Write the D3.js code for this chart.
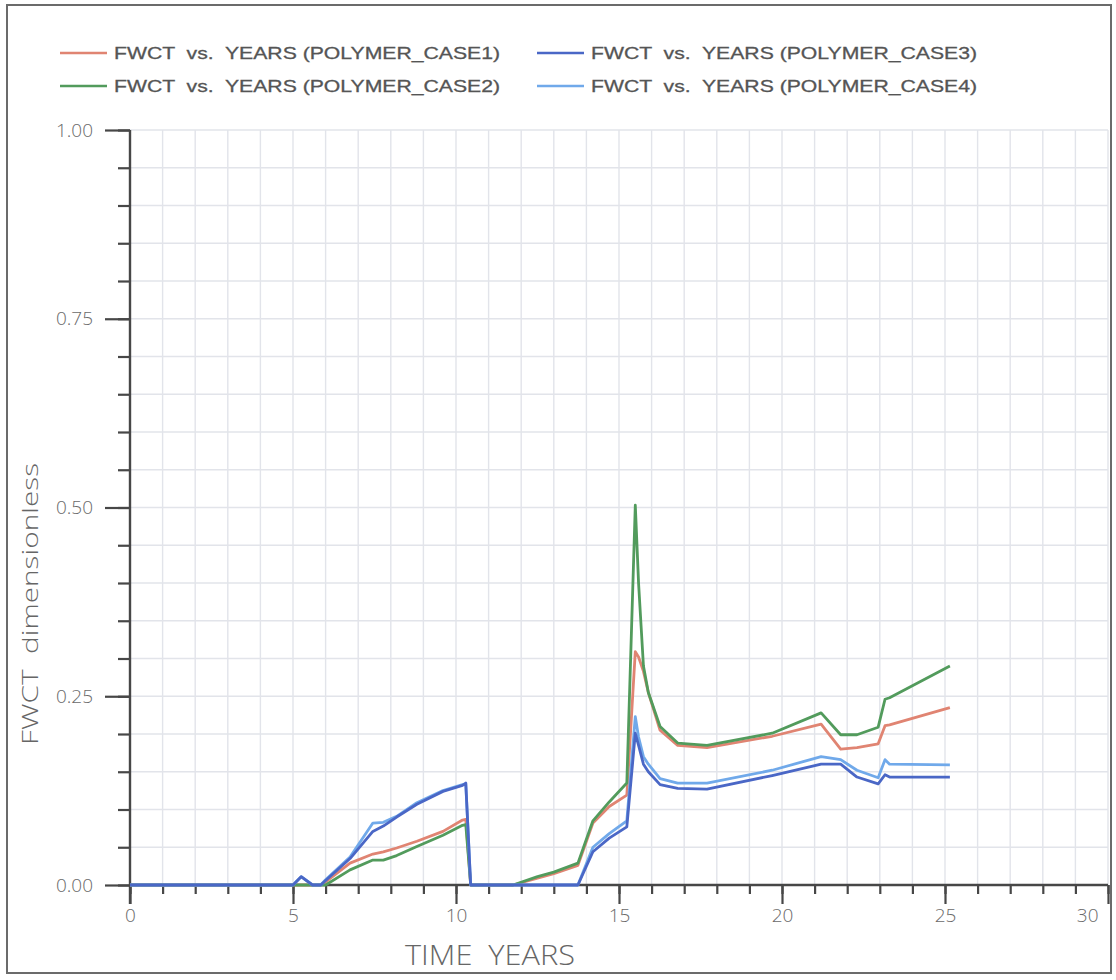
<!DOCTYPE html>
<html>
<head>
<meta charset="utf-8">
<script src="https://cdn.jsdelivr.net/npm/d3@7"></script>
<style>
  html, body { margin: 0; padding: 0; background: #fff; }
  svg { display: block; }
  svg text { white-space: pre; }
</style>
</head>
<body>
<svg id="chart" width="1116" height="980"></svg>
<script>
// ---- Data ----
const timeYears = [0, 5.0, 5.25, 5.6, 5.85, 6.0, 6.75, 7.45, 7.77, 8.18, 8.8, 9.6, 10.2, 10.3, 10.45,
  11.75, 12.5, 13.0, 13.74, 14.2, 14.7, 15.24, 15.5, 15.6, 15.75, 15.9, 16.26, 16.8, 17.7, 19.7,
  21.2, 21.8, 22.3, 22.95, 23.16, 23.3, 25.15];

const case1 = [0, 0, 0, 0, 0, 0.004, 0.029, 0.041, 0.044, 0.049, 0.058, 0.071, 0.086, 0.087, 0,
  0, 0.009, 0.015, 0.026, 0.082, 0.104, 0.119, 0.309, 0.302, 0.283, 0.255, 0.205, 0.185, 0.182, 0.197,
  0.213, 0.180, 0.182, 0.187, 0.211, 0.212, 0.235];

const case2 = [0, 0, 0, 0, 0, 0, 0.020, 0.033, 0.033, 0.039, 0.051, 0.066, 0.079, 0.080, 0,
  0, 0.011, 0.017, 0.029, 0.085, 0.110, 0.135, 0.503, 0.400, 0.290, 0.255, 0.210, 0.188, 0.185, 0.201,
  0.228, 0.199, 0.199, 0.209, 0.246, 0.248, 0.290];

const case3 = [0, 0, 0.011, 0, 0, 0.006, 0.035, 0.071, 0.078, 0.090, 0.107, 0.124, 0.132, 0.135, 0,
  0, 0, 0, 0, 0.044, 0.062, 0.077, 0.201, 0.185, 0.160, 0.150, 0.133, 0.128, 0.127, 0.145,
  0.160, 0.160, 0.143, 0.134, 0.146, 0.143, 0.143];

const case4 = [0, 0, 0.011, 0, 0, 0.007, 0.037, 0.082, 0.083, 0.091, 0.109, 0.125, 0.133, 0.134, 0,
  0, 0, 0, 0, 0.050, 0.068, 0.085, 0.223, 0.196, 0.170, 0.160, 0.141, 0.135, 0.135, 0.152,
  0.170, 0.166, 0.152, 0.142, 0.166, 0.160, 0.159];

const seriesNames = ["FWCT  vs.  YEARS (POLYMER_CASE1)", "FWCT  vs.  YEARS (POLYMER_CASE2)",
  "FWCT  vs.  YEARS (POLYMER_CASE3)", "FWCT  vs.  YEARS (POLYMER_CASE4)"];
const seriesColors = ["#e08472", "#529b5c", "#4a67c6", "#70a9ea"];
const yTickLabels = ["0.00", "0.25", "0.50", "0.75", "1.00"];
const xTickLabels = ["0", "5", "10", "15", "20", "25", "30"];

const seriesValues = [case1, case2, case3, case4];

// ---- Layout ----
const svg = d3.select("#chart");
const x = d3.scaleLinear().domain([0, 30]).range([130, 1108]);
const y = d3.scaleLinear().domain([0, 1]).range([885, 130]);

// outer frame
svg.append("rect").attr("x", 7).attr("y", 5).attr("width", 1104).attr("height", 968)
  .attr("fill", "none").attr("stroke", "#6b6b6b").attr("stroke-width", 2);

// grid
const grid = svg.append("g").attr("stroke", "#e2e4ea").attr("stroke-width", 1.4);
grid.selectAll(".vg").data(d3.range(1, 31)).join("line")
  .attr("x1", d => x(d)).attr("x2", d => x(d)).attr("y1", y(0)).attr("y2", y(1));
grid.selectAll(".hg").data(d3.range(1, 21).map(d => d * 0.05)).join("line")
  .attr("y1", d => y(d)).attr("y2", d => y(d)).attr("x1", x(0)).attr("x2", x(30));

// axes
const axisColor = "#474747";
function styleAxis(g) {
  g.select(".domain").remove();
  g.selectAll(".tick line").attr("stroke", axisColor).attr("stroke-width", 2.2);
  g.selectAll("text").attr("fill", "#6a6a6a").attr("font-family", "'Open Sans', 'DejaVu Sans', sans-serif")
    .attr("font-weight", 300).attr("font-size", 19);
}
// x minor
svg.append("g").attr("transform", `translate(0,${y(0)})`)
  .call(d3.axisBottom(x).tickValues(d3.range(0, 31)).tickSize(9).tickFormat(""))
  .call(styleAxis);
// x major
const xMajor = svg.append("g").attr("transform", `translate(0,${y(0)})`)
  .call(d3.axisBottom(x).tickValues(xTickLabels.map(Number)).tickSize(19).tickPadding(5)
    .tickFormat((d, i) => xTickLabels[i]))
  .call(styleAxis);
xMajor.selectAll(".tick").filter(d => d === 30).select("text")
  .attr("text-anchor", "end").attr("dx", -10);
// y minor
svg.append("g").attr("transform", `translate(${x(0)},0)`)
  .call(d3.axisLeft(y).tickValues(d3.range(0, 21).map(d => d * 0.05)).tickSize(12).tickFormat(""))
  .call(styleAxis);
// y major
svg.append("g").attr("transform", `translate(${x(0)},0)`)
  .call(d3.axisLeft(y).tickValues(yTickLabels.map(Number)).tickSize(25).tickPadding(12)
    .tickFormat((d, i) => yTickLabels[i]))
  .call(styleAxis);

// axis lines
svg.append("line").attr("x1", x(0)).attr("x2", x(0)).attr("y1", y(1)).attr("y2", y(0) + 19)
  .attr("stroke", axisColor).attr("stroke-width", 2.4);
svg.append("line").attr("x1", x(0)).attr("x2", x(30)).attr("y1", y(0)).attr("y2", y(0))
  .attr("stroke", axisColor).attr("stroke-width", 2.4);

// axis titles
svg.append("text").attr("x", 490).attr("y", 965).attr("text-anchor", "middle")
  .attr("font-family", "'Open Sans', 'DejaVu Sans', sans-serif").attr("font-weight", 300)
  .attr("font-size", 28).attr("fill", "#666")
  .attr("textLength", 170).attr("lengthAdjust", "spacingAndGlyphs")
  .text("TIME  YEARS");
svg.append("text").attr("transform", "translate(38,604) rotate(-90)").attr("text-anchor", "middle")
  .attr("font-family", "'Open Sans', 'DejaVu Sans', sans-serif").attr("font-weight", 300)
  .attr("font-size", 22).attr("fill", "#666")
  .attr("textLength", 282).attr("lengthAdjust", "spacingAndGlyphs")
  .text("FWCT  dimensionless");

// lines
const line = d3.line().x(d => x(d[0])).y(d => y(d[1]));
const drawOrder = [0, 1, 3, 2];
svg.append("g").selectAll("path").data(drawOrder).join("path")
  .attr("d", i => line(timeYears.map((t, k) => [t, seriesValues[i][k]])))
  .attr("fill", "none").attr("stroke", i => seriesColors[i]).attr("stroke-width", 2.8)
  .attr("stroke-linejoin", "round");

// legend
const legendPos = [[60, 53], [60, 86], [537, 53], [537, 86]];
const lg = svg.append("g").selectAll("g").data(seriesNames).join("g")
  .attr("transform", (d, i) => `translate(${legendPos[i][0]},${legendPos[i][1]})`);
lg.append("line").attr("x1", 0).attr("x2", 47).attr("y1", 0).attr("y2", 0)
  .attr("stroke", (d, i) => seriesColors[i]).attr("stroke-width", 2.6);
lg.append("text").attr("x", 54).attr("y", 6)
  .attr("font-family", "'Liberation Sans Narrow', 'Arial Narrow', 'Liberation Sans', Arial, sans-serif")
  .attr("font-size", 17).attr("fill", "#555").attr("stroke", "#555").attr("stroke-width", 0.3)
  .attr("textLength", 386).attr("lengthAdjust", "spacingAndGlyphs")
  .text(d => d);
</script>
</body>
</html>
